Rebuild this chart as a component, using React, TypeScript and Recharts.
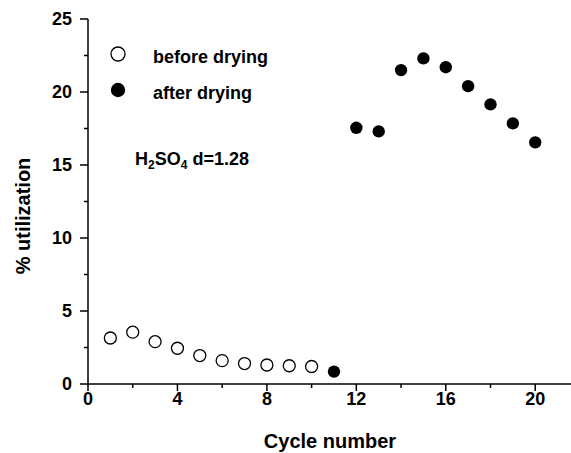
import React from 'react';
import { ScatterChart, Scatter, XAxis, YAxis, Customized } from 'recharts';

// cycles 1-10, measured before the plates were dried
const beforeCycles = [1, 2, 3, 4, 5, 6, 7, 8, 9, 10];
const beforeUtil = [3.15, 3.55, 2.9, 2.45, 1.95, 1.6, 1.4, 1.3, 1.25, 1.2];

// cycles 11-20, after drying
const afterCycles = [11, 12, 13, 14, 15, 16, 17, 18, 19, 20];
const afterUtil = [0.85, 17.55, 17.3, 21.5, 22.3, 21.7, 20.4, 19.15, 17.85, 16.55];

const xTicks = [0, 2, 4, 6, 8, 10, 12, 14, 16, 18, 20];
const yTicks = [0, 2.5, 5, 7.5, 10, 12.5, 15, 17.5, 20, 22.5, 25];

const beforeData = beforeCycles.map((x, i) => ({ x, y: beforeUtil[i] }));
const afterData = afterCycles.map((x, i) => ({ x, y: afterUtil[i] }));

const FONT = '"Liberation Sans", Arial, Helvetica, sans-serif';

const XTick = (props: any) => {
  const { x, y, payload } = props;
  const major = payload.value % 4 === 0;
  return (
    <g>
      <line x1={x} y1={y} x2={x} y2={y + (major ? 7 : 4)} stroke="#000" strokeWidth={1.5} />
      {major && (
        <text x={x} y={y + 21} textAnchor="middle" fontFamily={FONT} fontWeight="bold" fontSize={18} fill="#000">
          {payload.value}
        </text>
      )}
    </g>
  );
};

const YTick = (props: any) => {
  const { x, y, payload } = props;
  const major = payload.value % 5 === 0;
  return (
    <g>
      <line x1={x} y1={y} x2={x - (major ? 8 : 4)} y2={y} stroke="#000" strokeWidth={1.5} />
      {major && (
        <text x={x - 16} y={y} dy="0.36em" textAnchor="end" fontFamily={FONT} fontWeight="bold" fontSize={18} fill="#000">
          {payload.value}
        </text>
      )}
    </g>
  );
};

const OpenDot = (props: any) => (
  <circle cx={props.cx} cy={props.cy} r={6} fill="#fff" stroke="#000" strokeWidth={1.3} />
);

const FilledDot = (props: any) => (
  <circle cx={props.cx} cy={props.cy} r={6.2} fill="#000" />
);

// titles, legend and annotation
const Overlay = () => (
  <g fontFamily={FONT} fontWeight="bold" fill="#000">
    <text x={330} y={448} textAnchor="middle" fontSize={20}>Cycle number</text>
    <text x={30} y={216} textAnchor="middle" fontSize={20} transform="rotate(-90 30 216)">% utilization</text>

    <circle cx={118} cy={54} r={7} fill="#fff" stroke="#000" strokeWidth={1.3} />
    <text x={153} y={63} fontSize={18}>before drying</text>
    <circle cx={118} cy={90} r={7.2} fill="#000" />
    <text x={153} y={99} fontSize={18}>after drying</text>

    <text x={135} y={165} fontSize={18}>
      H<tspan fontSize={12} dy={4}>2</tspan>
      <tspan dy={-4}>SO</tspan>
      <tspan fontSize={12} dy={4}>4</tspan>
      <tspan dy={-4}> d=1.28</tspan>
    </text>
  </g>
);

export default function App() {
  return (
    <div style={{ position: 'absolute', left: 0, top: 0, width: 571, height: 453, background: '#fff' }}>
      <ScatterChart width={571} height={453} margin={{ top: 19, right: 0, bottom: 0, left: 0 }}>
        <XAxis
          type="number"
          dataKey="x"
          domain={[0, 21.6]}
          ticks={xTicks}
          interval={0}
          tickSize={0}
          tickMargin={0}
          tickLine={false}
          tick={<XTick />}
          height={69}
          axisLine={{ stroke: '#000', strokeWidth: 1.5 }}
        />
        <YAxis
          type="number"
          dataKey="y"
          domain={[0, 25]}
          ticks={yTicks}
          interval={0}
          tickSize={0}
          tickMargin={0}
          tickLine={false}
          tick={<YTick />}
          width={88}
          axisLine={{ stroke: '#000', strokeWidth: 1.5 }}
        />
        <Scatter name="before drying" data={beforeData} shape={<OpenDot />} isAnimationActive={false} />
        <Scatter name="after drying" data={afterData} shape={<FilledDot />} isAnimationActive={false} />
        <Customized component={<Overlay />} />
      </ScatterChart>
    </div>
  );
}
